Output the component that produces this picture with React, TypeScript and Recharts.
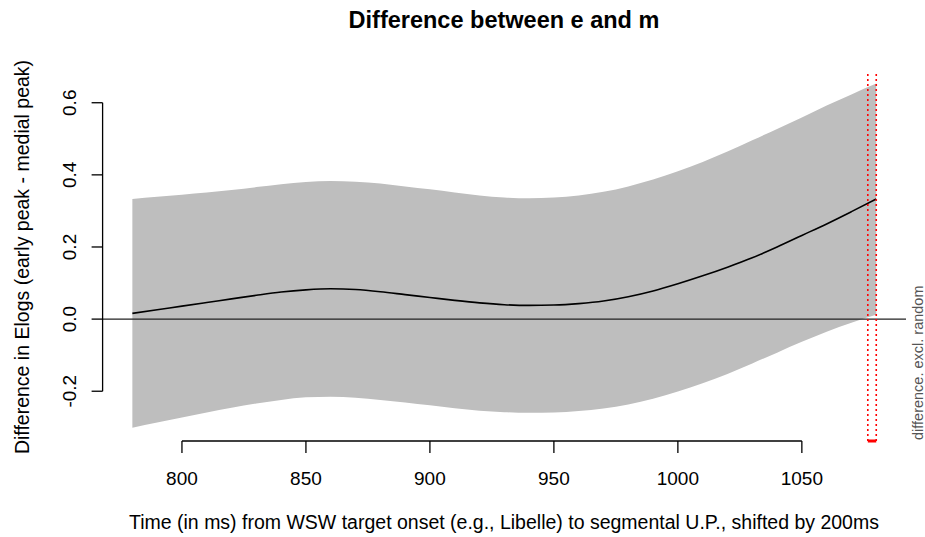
import React from 'react';
import { ComposedChart, Area, Line, XAxis, YAxis, ReferenceLine } from 'recharts';

// time in ms (x), fitted difference and its confidence band
const times = [780, 790, 800, 810, 820, 830, 840, 850, 860, 870, 880, 890, 900, 910, 920, 930, 940, 950, 960, 970, 980, 990, 1000, 1010, 1020, 1030, 1040, 1050, 1060, 1070, 1080];
const fit = [0.016, 0.026, 0.036, 0.046, 0.056, 0.066, 0.075, 0.081, 0.084, 0.082, 0.076, 0.068, 0.060, 0.052, 0.045, 0.040, 0.038, 0.039, 0.043, 0.050, 0.062, 0.078, 0.098, 0.120, 0.144, 0.170, 0.200, 0.232, 0.264, 0.298, 0.333];
const upper = [0.333, 0.339, 0.345, 0.351, 0.358, 0.366, 0.374, 0.380, 0.383, 0.381, 0.376, 0.368, 0.360, 0.351, 0.343, 0.337, 0.335, 0.337, 0.343, 0.353, 0.368, 0.387, 0.410, 0.436, 0.465, 0.496, 0.527, 0.559, 0.592, 0.623, 0.653];
const lower = [-0.301, -0.287, -0.273, -0.259, -0.246, -0.234, -0.224, -0.217, -0.215, -0.218, -0.224, -0.231, -0.239, -0.247, -0.254, -0.258, -0.260, -0.259, -0.255, -0.248, -0.237, -0.221, -0.201, -0.178, -0.152, -0.123, -0.093, -0.063, -0.035, -0.010, 0.012];

// significance window (red dotted lines)
const sigWindow = [1076.6, 1080];

const xTicks = [800, 850, 900, 950, 1000, 1050];
const yTicks = [-0.2, 0.0, 0.2, 0.4, 0.6];
const xDomain = [768, 1092];
const yDomain = [-0.338, 0.688];

const data = times.map((t, i) => ({ t, band: [lower[i], upper[i]], fit: fit[i] }));

const FONT = '"Liberation Sans", Arial, Helvetica, sans-serif';

const XTick = (props: any) => {
  const { x, payload } = props;
  return (
    <text x={x} y={485} textAnchor="middle" fontSize={19} fontFamily={FONT} fill="#000">
      {payload.value}
    </text>
  );
};

const YTick = (props: any) => {
  const { y, payload } = props;
  return (
    <text
      x={70}
      y={y}
      transform={`rotate(-90, 70, ${y})`}
      textAnchor="middle"
      dominantBaseline="central"
      fontSize={19}
      fontFamily={FONT}
      fill="#000"
    >
      {Number(payload.value).toFixed(1)}
    </text>
  );
};

export default function App() {
  return (
    <div style={{ position: 'absolute', left: 0, top: 0, width: 925, height: 537, background: '#fff' }}>
      <ComposedChart
        width={925}
        height={537}
        data={data}
        margin={{ top: 71, right: 19, bottom: 36, left: 42.6 }}
      >
        <XAxis
          dataKey="t"
          type="number"
          domain={xDomain}
          ticks={xTicks}
          allowDataOverflow
          axisLine={false}
          tickLine={{ stroke: '#000', strokeWidth: 1.3 }}
          tickSize={12}
          height={60}
          tick={<XTick />}
        />
        <YAxis
          type="number"
          domain={yDomain}
          ticks={yTicks}
          allowDataOverflow
          axisLine={false}
          tickLine={{ stroke: '#000', strokeWidth: 1.3 }}
          tickSize={11}
          width={60}
          tick={<YTick />}
        />
        <Area
          dataKey="band"
          type="monotone"
          fill="#bebebe"
          fillOpacity={1}
          stroke="none"
          isAnimationActive={false}
        />
        <ReferenceLine y={0} stroke="#222" strokeWidth={1.4} />
        <Line
          dataKey="fit"
          type="monotone"
          stroke="#000"
          strokeWidth={1.6}
          dot={false}
          isAnimationActive={false}
        />
        {/* R-style axis lines spanning only the tick range */}
        <ReferenceLine
          segment={[{ x: xTicks[0], y: yDomain[0] }, { x: xTicks[xTicks.length - 1], y: yDomain[0] }]}
          stroke="#000"
          strokeWidth={1.3}
          ifOverflow="visible"
        />
        <ReferenceLine
          segment={[{ x: xDomain[0], y: yTicks[0] }, { x: xDomain[0], y: yTicks[yTicks.length - 1] }]}
          stroke="#000"
          strokeWidth={1.3}
          ifOverflow="visible"
        />
        {sigWindow.map((v) => (
          <ReferenceLine key={v} x={v} stroke="#ff0000" strokeWidth={1.6} strokeDasharray="2 3" ifOverflow="visible" />
        ))}
        <ReferenceLine
          segment={[{ x: sigWindow[0], y: yDomain[0] }, { x: sigWindow[1], y: yDomain[0] }]}
          stroke="#ff0000"
          strokeWidth={3}
          ifOverflow="visible"
        />
      </ComposedChart>
      <svg width={925} height={537} style={{ position: 'absolute', left: 0, top: 0, pointerEvents: 'none' }}>
        <text x={504} y={28} textAnchor="middle" fontSize={23.5} fontWeight="bold" fontFamily={FONT} fill="#000">
          Difference between e and m
        </text>
        <text x={504} y={529} textAnchor="middle" fontSize={19.5} fontFamily={FONT} fill="#000">
          Time (in ms) from WSW target onset (e.g., Libelle) to segmental U.P., shifted by 200ms
        </text>
        <text
          x={22}
          y={257}
          transform="rotate(-90, 22, 257)"
          textAnchor="middle"
          dominantBaseline="central"
          fontSize={19.5}
          fontFamily={FONT}
          fill="#000"
        >
          Difference in Elogs (early peak - medial peak)
        </text>
        <text
          x={918}
          y={440}
          transform="rotate(-90, 918, 440)"
          textAnchor="start"
          dominantBaseline="central"
          fontSize={14.5}
          fontFamily={FONT}
          fill="#555"
        >
          difference. excl. random
        </text>
      </svg>
    </div>
  );
}
